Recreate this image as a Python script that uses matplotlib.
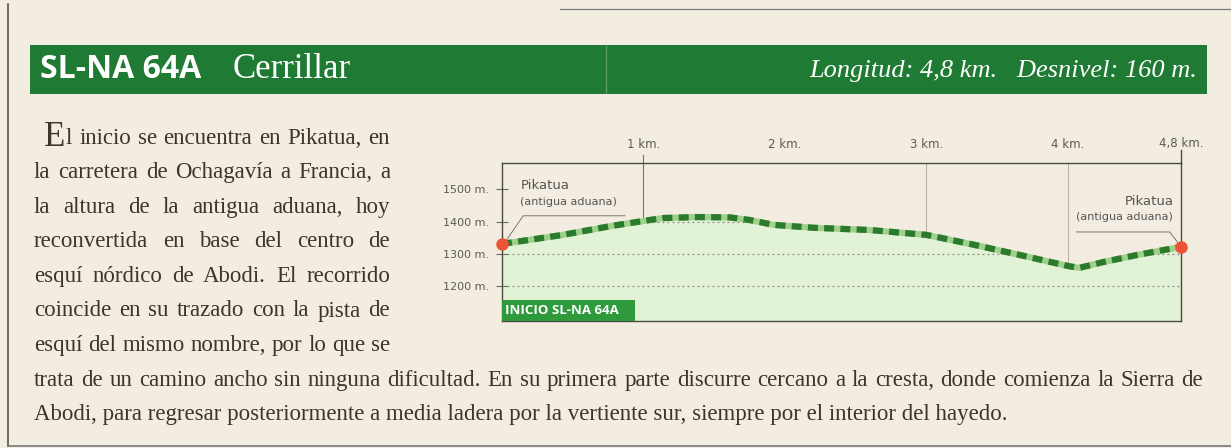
import matplotlib
matplotlib.use("Agg")
import matplotlib.pyplot as plt
from matplotlib.patches import Rectangle, Polygon

# ---------------------------------------------------------------------------
# datos del perfil (km, m)
# ---------------------------------------------------------------------------
dist_km = [0.0, 0.43, 0.78, 1.0, 1.14, 1.38, 1.61, 1.75, 1.92, 2.2, 2.6,
           3.0, 3.31, 3.66, 4.0, 4.08, 4.25, 4.49, 4.8]
alt_m = [1331, 1359, 1387, 1402, 1411, 1414, 1413, 1405, 1390, 1381, 1374,
         1359, 1331, 1297, 1263, 1257, 1275, 1297, 1322]

km_ticks = [1, 2, 3, 4, 4.8]
km_labels = ["1 km.", "2 km.", "3 km.", "4 km.", "4,8 km."]
km_marks = [1, 3, 4]
alt_ticks = [1200, 1300, 1400, 1500]
alt_labels = ["1200 m.", "1300 m.", "1400 m.", "1500 m."]

title_code = "SL-NA 64A"
title_name = "Cerrillar"
title_info = "Longitud: 4,8 km.   Desnivel: 160 m."
start_label = "INICIO SL-NA 64A"
place = "Pikatua"
place_sub = "(antigua aduana)"

col_lines = [
    "l inicio se encuentra en Pikatua, en",
    "la carretera de Ochagavía a Francia, a",
    "la altura de la antigua aduana, hoy",
    "reconvertida en base del centro de",
    "esquí nórdico de Abodi. El recorrido",
    "coincide en su trazado con la pista de",
    "esquí del mismo nombre, por lo que se",
]
wide_lines = [
    "trata de un camino ancho sin ninguna dificultad. En su primera parte "
    "discurre cercano a la cresta, donde comienza la Sierra de",
    "Abodi, para regresar posteriormente a media ladera por la vertiente sur, "
    "siempre por el interior del hayedo.",
]

PAPER = "#f3ede1"
GREEN = "#1f7b34"
INK = "#3b352d"
GREY = "#5a5a55"
W, H = 1231, 448

fig = plt.figure(figsize=(W / 100, H / 100), dpi=100, facecolor=PAPER)

# capa de fondo en pixeles
bg = fig.add_axes([0, 0, 1, 1], zorder=0)
bg.set_xlim(0, W)
bg.set_ylim(H, 0)
bg.axis("off")

# bordes de la pagina
bg.plot([8, 8], [4, 446], color="#555", lw=1.2)
bg.plot([8, W], [446, 446], color="#777", lw=1.2)
bg.plot([560, W], [9, 9], color="#777", lw=0.9)

# barra de titulo
bg.add_patch(Rectangle((30, 45), 1177, 49, color=GREEN, lw=0))
bg.plot([606, 606], [46, 93], color="#5fa06a", lw=0.8)
bg.text(40, 70, title_code, color="white", fontsize=23, fontweight="bold",
        family="Open Sans", va="center", ha="left")
bg.text(233, 70, title_name, color="white", fontsize=25,
        family="Liberation Serif", va="center", ha="left")
bg.text(1197, 71, title_info, color="white", fontsize=19, style="italic",
        family="Liberation Serif", va="center", ha="right")

renderer = fig.canvas.get_renderer()


def justify(line, x0, x1, y, size):
    words = line.split()
    texts = [bg.text(0, y, w, fontsize=size, family="Liberation Serif",
                     color=INK, va="center", ha="left") for w in words]
    widths = [t.get_window_extent(renderer).width for t in texts]
    gap = (x1 - x0 - sum(widths)) / (len(words) - 1)
    x = x0
    for t, w in zip(texts, widths):
        t.set_x(x)
        x += w + gap


BODY = 16.5
y0, dy = 138, 34.6
bg.text(44, y0 - 1, "E", fontsize=25, family="Liberation Serif", color=INK,
        va="center", ha="left")
justify(col_lines[0], 66, 390, y0, BODY)
for i, line in enumerate(col_lines[1:], start=1):
    justify(line, 34, 390, y0 + i * dy, BODY)
justify(wide_lines[0], 34, 1203, y0 + 7 * dy, BODY)
bg.text(34, y0 + 8 * dy, wide_lines[1], fontsize=BODY, family="Liberation Serif",
        color=INK, va="center", ha="left")

# ---------------------------------------------------------------------------
# perfil
# ---------------------------------------------------------------------------
x_l, x_r, y_t, y_b = 502, 1181, 163, 321
ax = fig.add_axes([x_l / W, (H - y_b) / H, (x_r - x_l) / W, (y_b - y_t) / H],
                  zorder=2)
ax.set_facecolor("none")
ax.set_xlim(0, 4.8)
ax.set_ylim(1093, 1581)

ax.fill_between(dist_km, alt_m, 1093, color="#e2f2d6", lw=0, zorder=1)
clip = Polygon(list(zip(dist_km, alt_m)) + [(4.8, 1093), (0, 1093)],
               closed=True, transform=ax.transData)
for a in [1200, 1300, 1400]:
    g = ax.axhline(a, color="#8c8c80", lw=0.9, ls=(0, (1.5, 2.5)), zorder=2)
    g.set_clip_path(clip)

for k in km_marks:
    top = 1581 + (25 if k == 1 else 0)
    a = alt_m[dist_km.index(k)] if k in dist_km else 1350
    ax.plot([k, k], [a, top], color="#b8b4a6" if k != 1 else "#77756c",
            lw=0.8, zorder=2, clip_on=False)

ax.plot(dist_km, alt_m, color="#9fd08c", lw=4.5, zorder=3,
        solid_capstyle="butt")
ax.plot(dist_km, alt_m, color="#2b7a2d", lw=4.5, zorder=4,
        ls=(0, (1.6, 1.0)), dash_capstyle="butt")
ax.plot([dist_km[0], dist_km[-1]], [alt_m[0], alt_m[-1]], "o",
        color="#ef5336", ms=8, zorder=5, clip_on=False)

for s in ["left", "top", "right", "bottom"]:
    ax.spines[s].set_color("#4a4a44")
    ax.spines[s].set_linewidth(1.0)
ax.plot([4.8, 4.8], [1581, 1620], color="#4a4a44", lw=1.0, clip_on=False)

ax.set_xticks(km_ticks)
ax.set_xticklabels(km_labels)
ax.xaxis.tick_top()
ax.tick_params(axis="x", length=0, pad=9, labelsize=8.5, labelcolor=GREY)
ax.set_yticks(alt_ticks)
ax.set_yticklabels(alt_labels)
ax.tick_params(axis="y", direction="inout", length=9, width=0.8,
               color="#666", pad=5, labelsize=8, labelcolor=GREY)
for lab in ax.get_xticklabels() + ax.get_yticklabels():
    lab.set_family("Liberation Sans Narrow")

# rotulos de Pikatua
ax.text(0.13, 1512, place, fontsize=9.5, color="#555", ha="left", va="center",
        family="Liberation Sans Narrow")
ax.text(0.13, 1461, place_sub, fontsize=8, color="#555", ha="left", va="center",
        family="Liberation Sans Narrow")
ax.plot([0.87, 0.15, 0.03], [1418, 1418, 1342], color="#777", lw=0.7, zorder=2)
ax.text(4.75, 1463, place, fontsize=9.5, color="#555", ha="right", va="center",
        family="Liberation Sans Narrow")
ax.text(4.74, 1414, place_sub, fontsize=8, color="#555", ha="right",
        va="center", family="Liberation Sans Narrow")
ax.plot([4.06, 4.72, 4.78], [1368, 1368, 1334], color="#777", lw=0.7,
        zorder=2)

# etiqueta de inicio
ax.add_patch(Rectangle((0, 1093), 0.94, 66, color="#2f9a3c", lw=0, zorder=6))
ax.text(0.02, 1126, start_label, fontsize=9.5, fontweight="bold",
        color="white", ha="left", va="center", family="Open Sans", zorder=7)

fig.savefig("out.png", dpi=100, facecolor=PAPER)
